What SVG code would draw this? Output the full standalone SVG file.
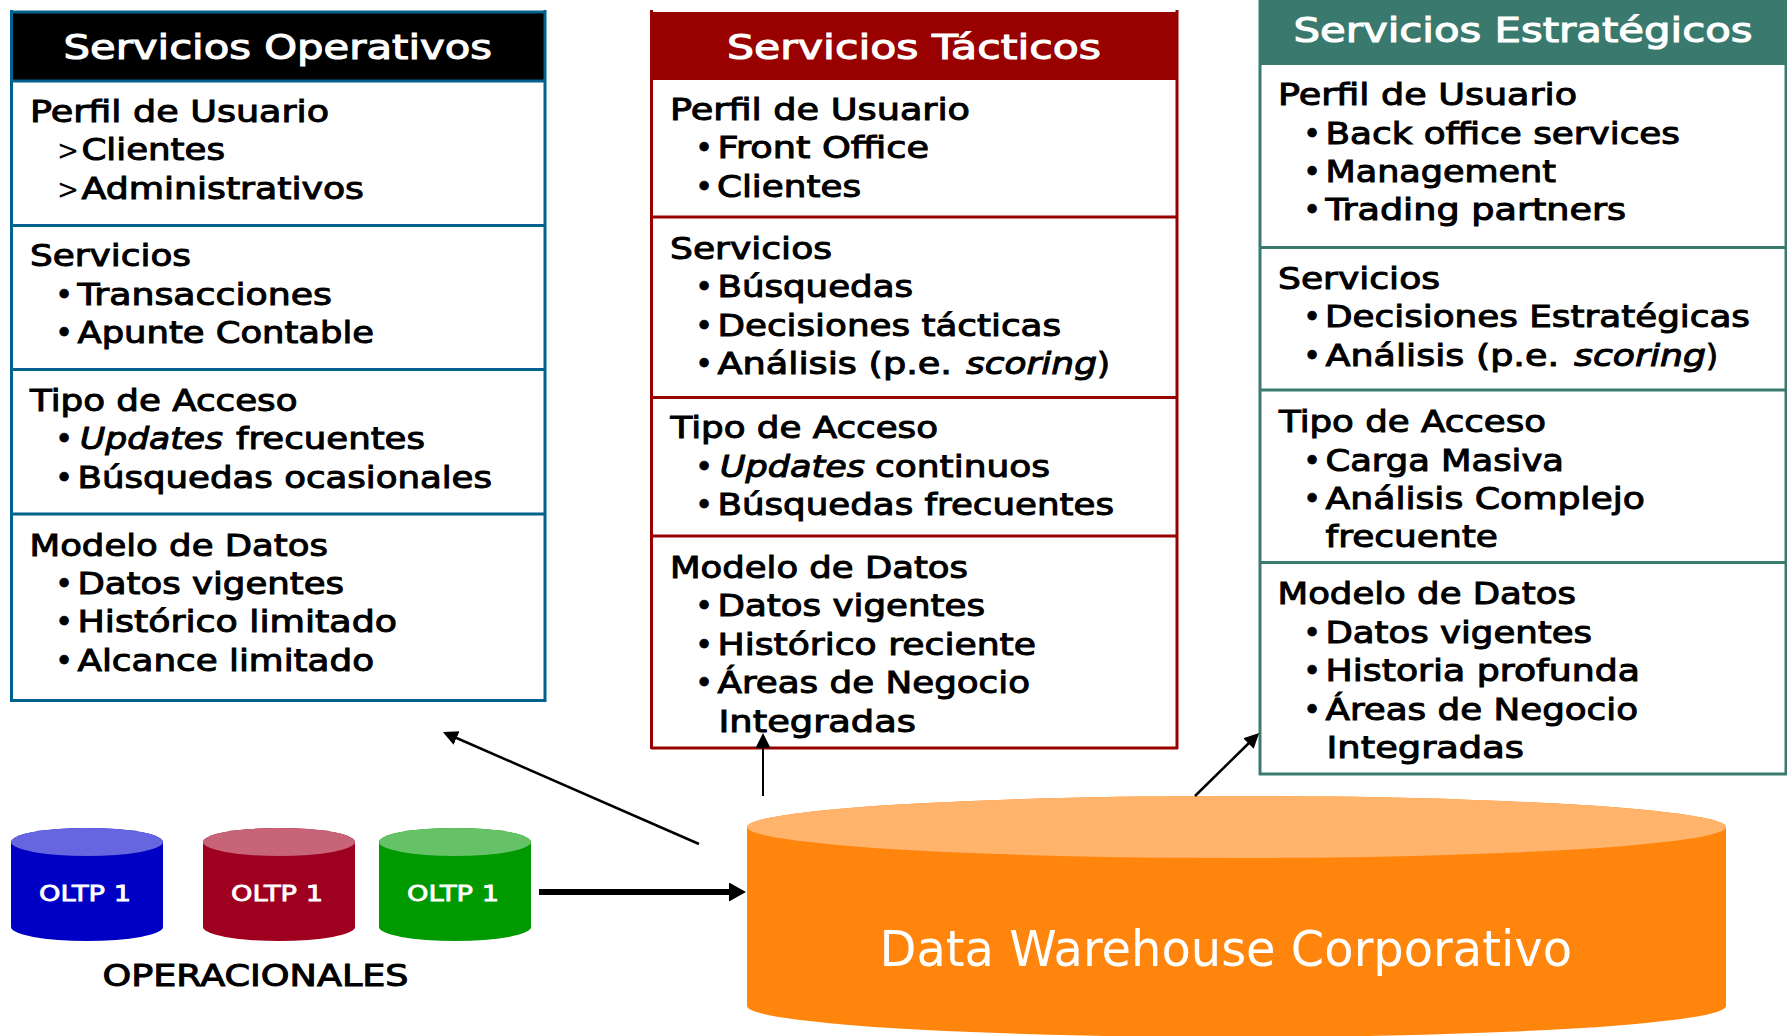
<svg xmlns="http://www.w3.org/2000/svg" width="1787" height="1036" viewBox="0 0 1787 1036">
<style>
text{font-family:"DejaVu Sans","Liberation Sans",sans-serif}
.t{font-size:30px;fill:#000;stroke:#000;stroke-width:1}
.i{font-style:italic}
.h{font-size:34px;fill:#fff;stroke:#fff;stroke-width:1.1}
.b{font-size:30px;fill:#000;stroke:#000;stroke-width:.8;text-anchor:middle}
.g{font-size:29px;fill:#000}
.o{font-size:22px;fill:#fff;stroke:#fff;stroke-width:.8}
.l1{stroke:#00628f;stroke-width:3;fill:none}
.l2{stroke:#990000;stroke-width:3;fill:none}
.l3{stroke:#3a7a6e;stroke-width:3;fill:none}
.ln{stroke:#000;fill:none}
</style>
<defs>
<marker id="a" markerUnits="userSpaceOnUse" markerWidth="16" markerHeight="16" refX="5" refY="7.5" orient="auto"><path d="M0,0 L15,7.5 L0,15 Z" fill="#000"/></marker>
<marker id="b" markerUnits="userSpaceOnUse" markerWidth="18" markerHeight="20" refX="7" refY="9.5" orient="auto"><path d="M0,0 L17,9.5 L0,19 Z" fill="#000"/></marker>
</defs>
<rect width="1787" height="1036" fill="#fff"/>

<g id="servicios-operativos">
<rect x="11.5" y="12" width="533.5" height="69" fill="#000"/>
<path class="l1" d="M11.5,10 V701 M545,10 V701 M11.5,12 H545 M11.5,81 H545 M11.5,225.5 H545 M11.5,369.5 H545 M11.5,514 H545 M10,700.5 H546.5"/>
<text class="h" x="63.5" y="58.5" textLength="428.5" lengthAdjust="spacingAndGlyphs">Servicios Operativos</text>
<text class="t" x="30" y="122" textLength="299" lengthAdjust="spacingAndGlyphs">Perfil de Usuario</text>
<text class="g" x="57" y="160" textLength="22" lengthAdjust="spacingAndGlyphs">&gt;</text>
<text class="t" x="81.5" y="160" textLength="143.5" lengthAdjust="spacingAndGlyphs">Clientes</text>
<text class="g" x="57" y="199" textLength="22" lengthAdjust="spacingAndGlyphs">&gt;</text>
<text class="t" x="81.5" y="199" textLength="282.5" lengthAdjust="spacingAndGlyphs">Administrativos</text>
<text class="t" x="30" y="265.5" textLength="161" lengthAdjust="spacingAndGlyphs">Servicios</text>
<text class="b" x="64" y="304.5">•</text>
<text class="t" x="77.5" y="304.5" textLength="254.5" lengthAdjust="spacingAndGlyphs">Transacciones</text>
<text class="b" x="64" y="342.5">•</text>
<text class="t" x="77.5" y="342.5" textLength="296.5" lengthAdjust="spacingAndGlyphs">Apunte Contable</text>
<text class="t" x="30" y="410.5" textLength="267.5" lengthAdjust="spacingAndGlyphs">Tipo de Acceso</text>
<text class="b" x="64" y="449">•</text>
<text class="t i" x="80" y="449" textLength="143" lengthAdjust="spacingAndGlyphs">Updates</text>
<text class="t" x="236" y="449" textLength="189" lengthAdjust="spacingAndGlyphs">frecuentes</text>
<text class="b" x="64" y="487.5">•</text>
<text class="t" x="77.5" y="487.5" textLength="414.5" lengthAdjust="spacingAndGlyphs">Búsquedas ocasionales</text>
<text class="t" x="29.5" y="556" textLength="298.5" lengthAdjust="spacingAndGlyphs">Modelo de Datos</text>
<text class="b" x="64" y="594">•</text>
<text class="t" x="77.5" y="594" textLength="266.5" lengthAdjust="spacingAndGlyphs">Datos vigentes</text>
<text class="b" x="64" y="632">•</text>
<text class="t" x="77.5" y="632" textLength="319.5" lengthAdjust="spacingAndGlyphs">Histórico limitado</text>
<text class="b" x="64" y="671">•</text>
<text class="t" x="77.5" y="671" textLength="296.5" lengthAdjust="spacingAndGlyphs">Alcance limitado</text>
</g>

<g id="servicios-tacticos">
<rect x="651" y="12" width="526" height="68" fill="#990000"/>
<path class="l2" d="M651.5,10 V749 M1177,10 V749 M651,217 H1177 M651,397.5 H1177 M651,536 H1177 M651,748 H1178"/>
<text class="h" x="727" y="59" textLength="374" lengthAdjust="spacingAndGlyphs">Servicios Tácticos</text>
<text class="t" x="670" y="120" textLength="300" lengthAdjust="spacingAndGlyphs">Perfil de Usuario</text>
<text class="b" x="704" y="158">•</text>
<text class="t" x="717.5" y="158" textLength="211.5" lengthAdjust="spacingAndGlyphs">Front Office</text>
<text class="b" x="704" y="197">•</text>
<text class="t" x="717" y="197" textLength="144" lengthAdjust="spacingAndGlyphs">Clientes</text>
<text class="t" x="670" y="259" textLength="162" lengthAdjust="spacingAndGlyphs">Servicios</text>
<text class="b" x="704" y="297">•</text>
<text class="t" x="717.5" y="297" textLength="195.5" lengthAdjust="spacingAndGlyphs">Búsquedas</text>
<text class="b" x="704" y="336">•</text>
<text class="t" x="717.5" y="336" textLength="343.5" lengthAdjust="spacingAndGlyphs">Decisiones tácticas</text>
<text class="b" x="704" y="374">•</text>
<text class="t" x="717.5" y="374" textLength="234.5" lengthAdjust="spacingAndGlyphs">Análisis (p.e.</text>
<text class="t i" x="966" y="374" textLength="131" lengthAdjust="spacingAndGlyphs">scoring</text>
<text class="t" x="1097" y="374" textLength="13" lengthAdjust="spacingAndGlyphs">)</text>
<text class="t" x="670.5" y="438" textLength="267.5" lengthAdjust="spacingAndGlyphs">Tipo de Acceso</text>
<text class="b" x="704" y="476.5">•</text>
<text class="t i" x="720" y="476.5" textLength="145" lengthAdjust="spacingAndGlyphs">Updates</text>
<text class="t" x="875" y="476.5" textLength="175" lengthAdjust="spacingAndGlyphs">continuos</text>
<text class="b" x="704" y="515">•</text>
<text class="t" x="717.5" y="515" textLength="396.5" lengthAdjust="spacingAndGlyphs">Búsquedas frecuentes</text>
<text class="t" x="670" y="578" textLength="298" lengthAdjust="spacingAndGlyphs">Modelo de Datos</text>
<text class="b" x="704" y="616">•</text>
<text class="t" x="717.5" y="616" textLength="267.5" lengthAdjust="spacingAndGlyphs">Datos vigentes</text>
<text class="b" x="704" y="655">•</text>
<text class="t" x="717.5" y="655" textLength="318.5" lengthAdjust="spacingAndGlyphs">Histórico reciente</text>
<text class="b" x="704" y="693">•</text>
<text class="t" x="717.5" y="693" textLength="312.5" lengthAdjust="spacingAndGlyphs">Áreas de Negocio</text>
<text class="t" x="718.5" y="732" textLength="197.5" lengthAdjust="spacingAndGlyphs">Integradas</text>
</g>

<g id="servicios-estrategicos">
<rect x="1259" y="0" width="528" height="65" fill="#3a7a6e"/>
<path class="l3" d="M1260,0 V775 M1786,0 V775 M1259,247.5 H1787 M1259,390 H1787 M1259,562.5 H1787 M1259,774 H1787"/>
<text class="h" x="1293.5" y="42" textLength="459" lengthAdjust="spacingAndGlyphs">Servicios Estratégicos</text>
<text class="t" x="1278" y="105" textLength="299" lengthAdjust="spacingAndGlyphs">Perfil de Usuario</text>
<text class="b" x="1312" y="143.5">•</text>
<text class="t" x="1325.5" y="143.5" textLength="354.5" lengthAdjust="spacingAndGlyphs">Back office services</text>
<text class="b" x="1312" y="182">•</text>
<text class="t" x="1325.5" y="182" textLength="230.5" lengthAdjust="spacingAndGlyphs">Management</text>
<text class="b" x="1312" y="220">•</text>
<text class="t" x="1325.5" y="220" textLength="300.5" lengthAdjust="spacingAndGlyphs">Trading partners</text>
<text class="t" x="1278" y="288.5" textLength="162" lengthAdjust="spacingAndGlyphs">Servicios</text>
<text class="b" x="1312" y="327">•</text>
<text class="t" x="1325" y="327" textLength="425" lengthAdjust="spacingAndGlyphs">Decisiones Estratégicas</text>
<text class="b" x="1312" y="366">•</text>
<text class="t" x="1325.5" y="366" textLength="233.5" lengthAdjust="spacingAndGlyphs">Análisis (p.e.</text>
<text class="t i" x="1574" y="366" textLength="132" lengthAdjust="spacingAndGlyphs">scoring</text>
<text class="t" x="1706" y="366" textLength="12" lengthAdjust="spacingAndGlyphs">)</text>
<text class="t" x="1279" y="432" textLength="267" lengthAdjust="spacingAndGlyphs">Tipo de Acceso</text>
<text class="b" x="1312" y="470.5">•</text>
<text class="t" x="1325.5" y="470.5" textLength="238.5" lengthAdjust="spacingAndGlyphs">Carga Masiva</text>
<text class="b" x="1312" y="508.5">•</text>
<text class="t" x="1325.5" y="508.5" textLength="319.5" lengthAdjust="spacingAndGlyphs">Análisis Complejo</text>
<text class="t" x="1325.5" y="547" textLength="172.5" lengthAdjust="spacingAndGlyphs">frecuente</text>
<text class="t" x="1277.5" y="604" textLength="298.5" lengthAdjust="spacingAndGlyphs">Modelo de Datos</text>
<text class="b" x="1312" y="643">•</text>
<text class="t" x="1325.5" y="643" textLength="266.5" lengthAdjust="spacingAndGlyphs">Datos vigentes</text>
<text class="b" x="1312" y="681">•</text>
<text class="t" x="1325.5" y="681" textLength="314.5" lengthAdjust="spacingAndGlyphs">Historia profunda</text>
<text class="b" x="1312" y="720">•</text>
<text class="t" x="1325.5" y="720" textLength="312.5" lengthAdjust="spacingAndGlyphs">Áreas de Negocio</text>
<text class="t" x="1326.5" y="758" textLength="197.5" lengthAdjust="spacingAndGlyphs">Integradas</text>
</g>

<g id="oltp-1">
<path d="M11,842 A76,14 0 0 1 163,842 V927 A76,14 0 0 1 11,927 Z" fill="#0000c4"/>
<ellipse cx="87" cy="842" rx="76" ry="14" fill="#6666e0"/>
<text class="o" x="39" y="900.5" textLength="92" lengthAdjust="spacingAndGlyphs">OLTP 1</text>
</g>
<g id="oltp-2">
<path d="M203,842 A76,14 0 0 1 355,842 V927 A76,14 0 0 1 203,927 Z" fill="#a00020"/>
<ellipse cx="279" cy="842" rx="76" ry="14" fill="#c76478"/>
<text class="o" x="231" y="900.5" textLength="92" lengthAdjust="spacingAndGlyphs">OLTP 1</text>
</g>
<g id="oltp-3">
<path d="M379,842 A76,14 0 0 1 531,842 V927 A76,14 0 0 1 379,927 Z" fill="#009900"/>
<ellipse cx="455" cy="842" rx="76" ry="14" fill="#66c266"/>
<text class="o" x="407" y="900.5" textLength="92" lengthAdjust="spacingAndGlyphs">OLTP 1</text>
</g>
<g id="operacionales">
<text class="t" x="102.5" y="985.5" textLength="306" lengthAdjust="spacingAndGlyphs">OPERACIONALES</text>
</g>
<g id="data-warehouse">
<path d="M747,827 A489.5,31 0 0 1 1726,827 V1006 A489.5,31 0 0 1 747,1006 Z" fill="#ff850d"/>
<ellipse cx="1236.5" cy="827" rx="489.5" ry="31" fill="#ffb36b"/>
<text x="879.5" y="966" font-size="50" fill="#fff" textLength="692.5" lengthAdjust="spacingAndGlyphs">Data Warehouse Corporativo</text>
</g>

<g id="connectors">
<path class="ln" stroke-width="2.5" d="M699,844 L452,736" marker-end="url(#a)"/>
<path class="ln" stroke-width="2" d="M763,796 V743" marker-end="url(#a)"/>
<path class="ln" stroke-width="2.5" d="M1195,796 L1252,740" marker-end="url(#a)"/>
<path class="ln" stroke-width="6" d="M539,892 H736" marker-end="url(#b)"/>
</g>
</svg>
